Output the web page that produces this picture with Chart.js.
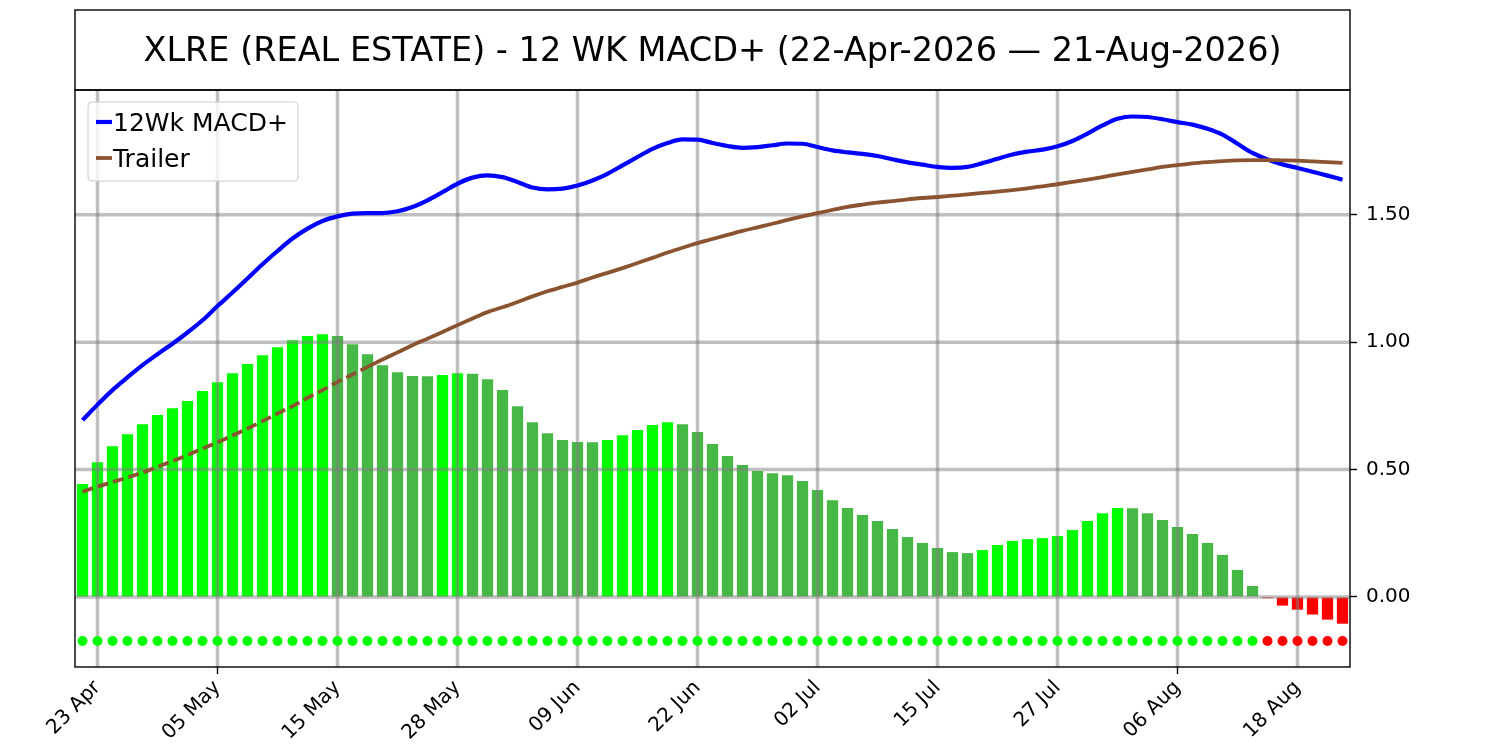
<!DOCTYPE html>
<html>
<head>
<meta charset="utf-8">
<title>XLRE 12 WK MACD+</title>
<script src="https://cdn.jsdelivr.net/npm/chart.js@4.4.1/dist/chart.umd.min.js"></script>
<style>
  body { margin: 0; background: #fff; }
  canvas { display: block; }
</style>
</head>
<body>
<canvas id="macdChart" width="1500" height="750"></canvas>
<script>
// trading days, 22 Apr - 21 Aug 2026
const dates = [
  '22 Apr', '23 Apr', '24 Apr', '27 Apr', '28 Apr', '29 Apr', '30 Apr',
  '01 May', '04 May', '05 May', '06 May', '07 May', '08 May', '11 May', '12 May', '13 May', '14 May', '15 May',
  '18 May', '19 May', '20 May', '21 May', '22 May', '26 May', '27 May', '28 May', '29 May',
  '01 Jun', '02 Jun', '03 Jun', '04 Jun', '05 Jun', '08 Jun', '09 Jun', '10 Jun', '11 Jun', '12 Jun',
  '15 Jun', '16 Jun', '17 Jun', '18 Jun', '22 Jun', '23 Jun', '24 Jun', '25 Jun', '26 Jun', '29 Jun', '30 Jun',
  '01 Jul', '02 Jul', '06 Jul', '07 Jul', '08 Jul', '09 Jul', '10 Jul', '13 Jul', '14 Jul', '15 Jul', '16 Jul',
  '17 Jul', '20 Jul', '21 Jul', '22 Jul', '23 Jul', '24 Jul', '27 Jul', '28 Jul', '29 Jul', '30 Jul', '31 Jul',
  '03 Aug', '04 Aug', '05 Aug', '06 Aug', '07 Aug', '10 Aug', '11 Aug', '12 Aug', '13 Aug', '14 Aug',
  '17 Aug', '18 Aug', '19 Aug', '20 Aug', '21 Aug'
];
const tickLabels = ['23 Apr', '05 May', '15 May', '28 May', '09 Jun', '22 Jun', '02 Jul', '15 Jul', '27 Jul', '06 Aug', '18 Aug'];
const yTicks = [0, 0.5, 1.0, 1.5];

const histValues = [
  0.443, 0.529, 0.592, 0.639, 0.678, 0.714, 0.741, 0.769, 0.808, 0.843,
  0.878, 0.914, 0.949, 0.980, 1.008, 1.024, 1.031, 1.024, 0.992, 0.953,
  0.910, 0.882, 0.867, 0.866, 0.871, 0.878, 0.876, 0.855, 0.812, 0.749,
  0.686, 0.643, 0.616, 0.608, 0.607, 0.616, 0.635, 0.655, 0.675, 0.686,
  0.678, 0.647, 0.600, 0.553, 0.518, 0.494, 0.486, 0.478, 0.455, 0.420,
  0.380, 0.349, 0.322, 0.298, 0.267, 0.235, 0.212, 0.192, 0.176, 0.172,
  0.184, 0.204, 0.220, 0.227, 0.231, 0.239, 0.263, 0.298, 0.329, 0.349,
  0.348, 0.329, 0.302, 0.275, 0.247, 0.212, 0.165, 0.106, 0.043, -0.005,
  -0.034, -0.050, -0.069, -0.089, -0.105
];
const macdValues = [
  0.694, 0.755, 0.812, 0.862, 0.910, 0.953, 0.994, 1.038, 1.086, 1.142,
  1.195, 1.250, 1.306, 1.358, 1.407, 1.446, 1.476, 1.494, 1.505, 1.507,
  1.507, 1.514, 1.531, 1.557, 1.589, 1.622, 1.646, 1.655, 1.648, 1.629,
  1.607, 1.600, 1.603, 1.615, 1.635, 1.661, 1.694, 1.727, 1.759, 1.782,
  1.796, 1.795, 1.782, 1.770, 1.763, 1.766, 1.773, 1.780, 1.779, 1.766,
  1.753, 1.745, 1.739, 1.731, 1.718, 1.706, 1.697, 1.688, 1.684, 1.688,
  1.703, 1.720, 1.737, 1.748, 1.756, 1.769, 1.790, 1.819, 1.851, 1.877,
  1.886, 1.884, 1.875, 1.864, 1.854, 1.838, 1.815, 1.779, 1.743, 1.717,
  1.698, 1.684, 1.669, 1.654, 1.638
];
const trailerValues = [
  0.413, 0.433, 0.451, 0.469, 0.488, 0.511, 0.533, 0.557, 0.582, 0.607,
  0.634, 0.661, 0.690, 0.720, 0.749, 0.782, 0.812, 0.844, 0.873, 0.903,
  0.932, 0.960, 0.988, 1.014, 1.040, 1.067, 1.093, 1.118, 1.137, 1.158,
  1.180, 1.200, 1.217, 1.234, 1.254, 1.272, 1.291, 1.311, 1.331, 1.352,
  1.371, 1.389, 1.405, 1.421, 1.437, 1.451, 1.465, 1.480, 1.494, 1.507,
  1.519, 1.531, 1.540, 1.548, 1.554, 1.561, 1.566, 1.570, 1.575, 1.580,
  1.586, 1.591, 1.597, 1.604, 1.612, 1.620, 1.629, 1.638, 1.648, 1.659,
  1.669, 1.678, 1.688, 1.695, 1.702, 1.707, 1.711, 1.714, 1.715, 1.715,
  1.714, 1.713, 1.710, 1.707, 1.704
];
const signalLevel = -0.173;

const titleText = 'XLRE (REAL ESTATE) - 12 WK MACD+ (22-Apr-2026 \u2014 21-Aug-2026)';
const fontFamily = '"DejaVu Sans", sans-serif';

const barColors = histValues.map((v, i) => {
  if (v < 0) return '#ff0000';
  if (i > 0 && v < histValues[i - 1]) return '#45b845';
  return '#00ff00';
});
const dotColors = histValues.map(v => v < 0 ? '#ff0000' : '#00ff00');
const dotValues = dates.map(() => signalLevel);

// trailer is dashed while it runs below the histogram
const trailerBelow = i => trailerValues[i] < histValues[i];

// matplotlib draws the grid above the bars but under the lines
const gridOverBars = {
  id: 'gridOverBars',
  afterDatasetDraw(chart, args) {
    if (args.meta.type !== 'bar') return;
    const { ctx, chartArea: a, scales: { x, y } } = chart;
    ctx.save();
    ctx.beginPath();
    ctx.rect(a.left, a.top, a.right - a.left, a.bottom - a.top);
    ctx.clip();
    ctx.strokeStyle = 'rgba(128,128,128,0.5)';
    ctx.lineWidth = 3.5;
    yTicks.forEach(v => {
      const py = y.getPixelForValue(v);
      ctx.beginPath();
      ctx.moveTo(a.left, py);
      ctx.lineTo(a.right, py);
      ctx.stroke();
    });
    tickLabels.forEach(l => {
      const px = x.getPixelForValue(dates.indexOf(l));
      ctx.beginPath();
      ctx.moveTo(px, a.top);
      ctx.lineTo(px, a.bottom);
      ctx.stroke();
    });
    ctx.restore();
  }
};

const frame = {
  id: 'frame',
  afterDraw(chart) {
    const { ctx, chartArea: a } = chart;
    const sets = chart.data.datasets;
    ctx.save();
    ctx.strokeStyle = '#000';
    ctx.lineWidth = 1.4;
    ctx.strokeRect(a.left, a.top, a.right - a.left, a.bottom - a.top);
    ctx.strokeRect(a.left, 10, a.right - a.left, a.top - 10);

    ctx.fillStyle = '#000';
    ctx.font = '33.5px ' + fontFamily;
    ctx.textAlign = 'center';
    ctx.textBaseline = 'alphabetic';
    ctx.fillText(titleText, (a.left + a.right) / 2, 61);

    // legend box, top left inside the plot
    const lx = a.left + 13, ly = a.top + 12;
    ctx.beginPath();
    ctx.roundRect(lx, ly, 210, 79, 4);
    ctx.fillStyle = 'rgba(255,255,255,0.8)';
    ctx.fill();
    ctx.strokeStyle = '#cccccc';
    ctx.lineWidth = 1;
    ctx.stroke();

    ctx.font = '25px ' + fontFamily;
    ctx.textAlign = 'left';
    [sets[1], sets[2]].forEach((ds, k) => {
      const ry = a.top + 32 + k * 36;
      ctx.strokeStyle = ds.borderColor;
      ctx.lineWidth = ds.borderWidth;
      ctx.beginPath();
      ctx.moveTo(a.left + 21, ry);
      ctx.lineTo(a.left + 37, ry);
      ctx.stroke();
      ctx.fillStyle = '#000';
      ctx.fillText(ds.label, a.left + 38, ry + 9);
    });
    ctx.restore();
  }
};

new Chart('macdChart', {
  type: 'bar',
  data: {
    labels: dates,
    datasets: [
      {
        label: 'Histogram',
        data: histValues,
        backgroundColor: barColors,
        barPercentage: 0.75,
        categoryPercentage: 1.0,
        order: 3
      },
      {
        type: 'line',
        label: '12Wk MACD+',
        data: macdValues,
        borderColor: '#0000ff',
        borderWidth: 4.2,
        pointRadius: 0,
        cubicInterpolationMode: 'monotone',
        order: 2
      },
      {
        type: 'line',
        label: 'Trailer',
        data: trailerValues,
        borderColor: '#8b5430',
        borderWidth: 3.8,
        pointRadius: 0,
        cubicInterpolationMode: 'monotone',
        segment: {
          borderDash: c => (trailerBelow(c.p0DataIndex) && trailerBelow(c.p1DataIndex)) ? [11, 5] : undefined
        },
        order: 1
      },
      {
        type: 'line',
        label: 'Signal',
        data: dotValues,
        showLine: false,
        pointRadius: 5,
        pointBorderWidth: 0,
        pointBackgroundColor: dotColors,
        order: 0
      }
    ]
  },
  options: {
    responsive: false,
    devicePixelRatio: 1,
    animation: false,
    layout: { padding: { left: 75, top: 90, right: 0, bottom: 0 } },
    plugins: {
      legend: { display: false },
      tooltip: { enabled: false }
    },
    scales: {
      x: {
        offset: true,
        grid: {
          offset: false,
          drawOnChartArea: false,
          tickLength: 7,
          tickWidth: 1.4,
          tickColor: c => tickLabels.includes(dates[c.index]) ? '#000' : 'rgba(0,0,0,0)'
        },
        border: { display: false },
        ticks: {
          autoSkip: false,
          maxRotation: 45,
          minRotation: 45,
          padding: 2,
          color: '#000',
          font: { family: fontFamily, size: 20 },
          callback: (val, i) => tickLabels.includes(dates[i]) ? dates[i] : null
        },
        afterFit: s => { s.height = 83; }
      },
      y: {
        position: 'right',
        min: -0.275,
        max: 1.99,
        afterBuildTicks: s => { s.ticks = yTicks.map(v => ({ value: v })); },
        grid: {
          drawOnChartArea: false,
          tickLength: 7,
          tickWidth: 1.4,
          tickColor: '#000'
        },
        border: { display: false },
        ticks: {
          padding: 9,
          color: '#000',
          font: { family: fontFamily, size: 20 },
          callback: v => v.toFixed(2)
        },
        afterFit: s => { s.width = 150; }
      }
    }
  },
  plugins: [gridOverBars, frame]
});
</script>
</body>
</html>
